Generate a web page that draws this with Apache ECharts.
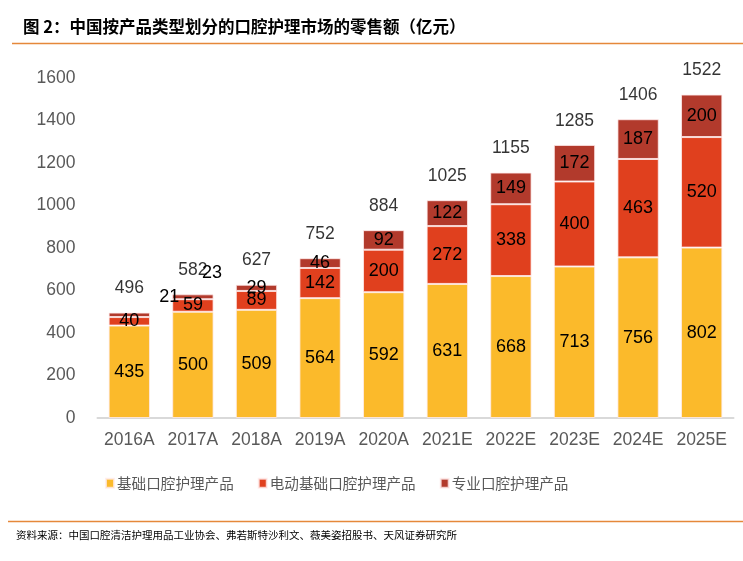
<!DOCTYPE html>
<html><head><meta charset="utf-8">
<script src="https://cdn.jsdelivr.net/npm/echarts@6/dist/echarts.min.js"></script>
<style>html,body{margin:0;padding:0;background:#fff}#c{width:743px;height:561px}</style>
</head><body><div id="c"></div>
<script>
const categories = ['2016A','2017A','2018A','2019A','2020A','2021E','2022E','2023E','2024E','2025E'];
const basic = [435,500,509,564,592,631,668,713,756,802];
const electric = [40,59,89,142,200,272,338,400,463,520];
const professional = [21,23,29,46,92,122,149,172,187,200];
const totals = [496,582,627,752,884,1025,1155,1285,1406,1522];
const yTicks = [0,200,400,600,800,1000,1200,1400,1600];
const seriesNames = ['基础口腔护理产品','电动基础口腔护理产品','专业口腔护理产品'];

const FONT = '"Liberation Sans", Arial, "Noto Sans CJK SC", sans-serif';
const colors = ['#FBBA2B','#E0401E','#B23A2C'];
const labelStyle = {show:true, position:'inside', color:'#000', fontSize:18, fontFamily:FONT};
const border = {borderColor:'rgba(255,235,235,0.8)', borderWidth:1};

const proData = professional.map((v,i)=>{
  if (i===0) return {value:v, label:{offset:[40,-18]}};
  if (i===1) return {value:v, label:{offset:[19,-24]}};
  return v;
});

const chart = echarts.init(document.getElementById('c'));
chart.setOption({
  animation:false,
  color:colors,
  grid:{left:97.5, right:9.5, top:78, bottom:143},
  legend:{
    data:seriesNames, left:100, top:471, itemWidth:8, itemHeight:9, itemGap:24,
    icon:'rect',
    textStyle:{fontSize:14.6, color:'#595959', fontFamily:'"Noto Sans CJK SC", sans-serif', padding:[0,0,0,-2]}
  },
  xAxis:{
    type:'category', data:categories,
    axisLine:{lineStyle:{color:'#d9d9d9', width:2}},
    axisTick:{show:false},
    axisLabel:{interval:0, fontSize:17.5, color:'#595959', margin:13, fontFamily:FONT}
  },
  yAxis:{
    type:'value', min:yTicks[0], max:yTicks[yTicks.length-1], interval:200,
    splitLine:{show:false}, axisLine:{show:false}, axisTick:{show:false},
    axisLabel:{fontSize:17.5, color:'#595959', margin:22, fontFamily:FONT, formatter:v=>String(v)}
  },
  series:[
    {name:seriesNames[0], type:'bar', stack:'a', barWidth:'65%', data:basic, itemStyle:border, label:labelStyle},
    {name:seriesNames[1], type:'bar', stack:'a', data:electric, itemStyle:border, label:labelStyle},
    {name:seriesNames[2], type:'bar', stack:'a', data:proData, itemStyle:border, label:labelStyle},
    {name:'合计', type:'scatter', data:totals, symbolSize:1, itemStyle:{color:'rgba(0,0,0,0)'},
     label:{show:true, position:'top', distance:15, color:'#000', fontSize:17.5, fontFamily:FONT}}
  ],
  graphic:[
    {type:'text', left:23, top:18, style:{text:'图 2：中国按产品类型划分的口腔护理市场的零售额（亿元）', font:'bold 16.5px "Noto Sans CJK SC", sans-serif', fill:'#000'}},
    {type:'line', shape:{x1:12,y1:43.5,x2:743,y2:43.5}, style:{stroke:'#E5883A', lineWidth:1.5}},
    {type:'line', shape:{x1:8,y1:521.5,x2:743,y2:521.5}, style:{stroke:'#E5883A', lineWidth:1.5}},
    {type:'text', left:16, top:530, style:{text:'资料来源：中国口腔清洁护理用品工业协会、弗若斯特沙利文、薇美姿招股书、天风证券研究所', font:'10.5px "Noto Sans CJK SC", sans-serif', fill:'#000'}}
  ]
});
</script></body></html>
